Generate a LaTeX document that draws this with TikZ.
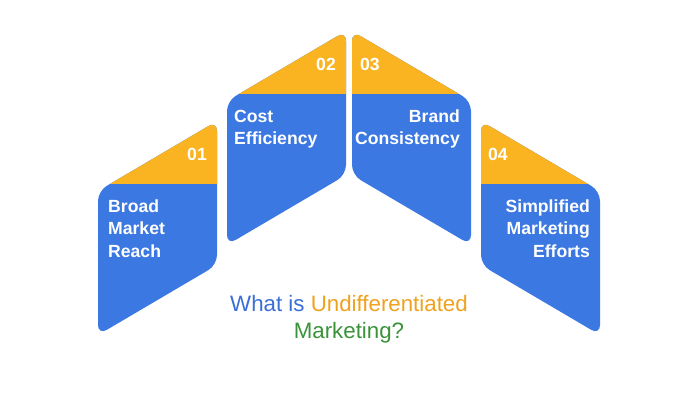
\documentclass[tikz,border=0pt]{standalone}
\usepackage{fontspec}
\setmainfont{Liberation Sans}
\definecolor{cblue}{HTML}{3B78E2}
\definecolor{corange}{HTML}{FAB421}
\definecolor{tblue}{HTML}{3A6FD6}
\definecolor{torange}{HTML}{EFA21E}
\definecolor{tgreen}{HTML}{3A9338}
\begin{document}
\begin{tikzpicture}[x=1pt,y=-1pt,
  boxtext/.style={text=white,font=\bfseries\fontsize{17.6}{22}\selectfont,inner sep=0pt},
  titletext/.style={font=\fontsize{22.3}{26}\selectfont,inner sep=0pt},
  corner/.style={rounded corners=10pt}]
\useasboundingbox[fill=white] (0,0) rectangle (698,400);
% shape 1
\begin{scope}
\clip[corner] (98,191) -- (217,121) -- (217,265) -- (98,335) -- cycle;
\fill[cblue] (90,110) rectangle (230,345);
\fill[corange] (90,110) rectangle (230,184);
\end{scope}
% shape 2
\begin{scope}
\clip[corner] (227,101) -- (346,31) -- (346,175) -- (227,245) -- cycle;
\fill[cblue] (220,20) rectangle (355,255);
\fill[corange] (220,20) rectangle (355,94);
\end{scope}
% shape 3
\begin{scope}
\clip[corner] (352,31) -- (471,101) -- (471,245) -- (352,175) -- cycle;
\fill[cblue] (345,20) rectangle (480,255);
\fill[corange] (345,20) rectangle (480,94);
\end{scope}
% shape 4
\begin{scope}
\clip[corner] (481,121) -- (600,191) -- (600,335) -- (481,265) -- cycle;
\fill[cblue] (470,110) rectangle (610,345);
\fill[corange] (470,110) rectangle (610,184);
\end{scope}
% numbers
\node[boxtext,anchor=base east] (n1) at (207,160) {01};
\node[boxtext,anchor=base east] (n2) at (336,70) {02};
\node[boxtext,anchor=base west] (n3) at (360,70) {03};
\node[boxtext,anchor=base west] (n4) at (488,160) {04};
% texts
\node[boxtext,anchor=base west] (t1a) at (108,212) {Broad};
\node[boxtext,anchor=base west] (t1b) at (108,234.5) {Market};
\node[boxtext,anchor=base west] (t1c) at (108,257) {Reach};
\node[boxtext,anchor=base west] (t2a) at (234,122) {Cost};
\node[boxtext,anchor=base west] (t2b) at (234,144.5) {Efficiency};
\node[boxtext,anchor=base east] (t3a) at (460,122) {Brand};
\node[boxtext,anchor=base east] (t3b) at (460,144.5) {Consistency};
\node[boxtext,anchor=base east] (t4a) at (590,212) {Simplified};
\node[boxtext,anchor=base east] (t4b) at (590,234.5) {Marketing};
\node[boxtext,anchor=base east] (t4c) at (590,257) {Efforts};
% title
\node[titletext,anchor=base] (title1) at (349,311) {\textcolor{tblue}{What is} \textcolor{torange}{Undifferentiated}};
\node[titletext,anchor=base,text=tgreen] (title2) at (349,338) {Marketing?};
\end{tikzpicture}
\end{document}
